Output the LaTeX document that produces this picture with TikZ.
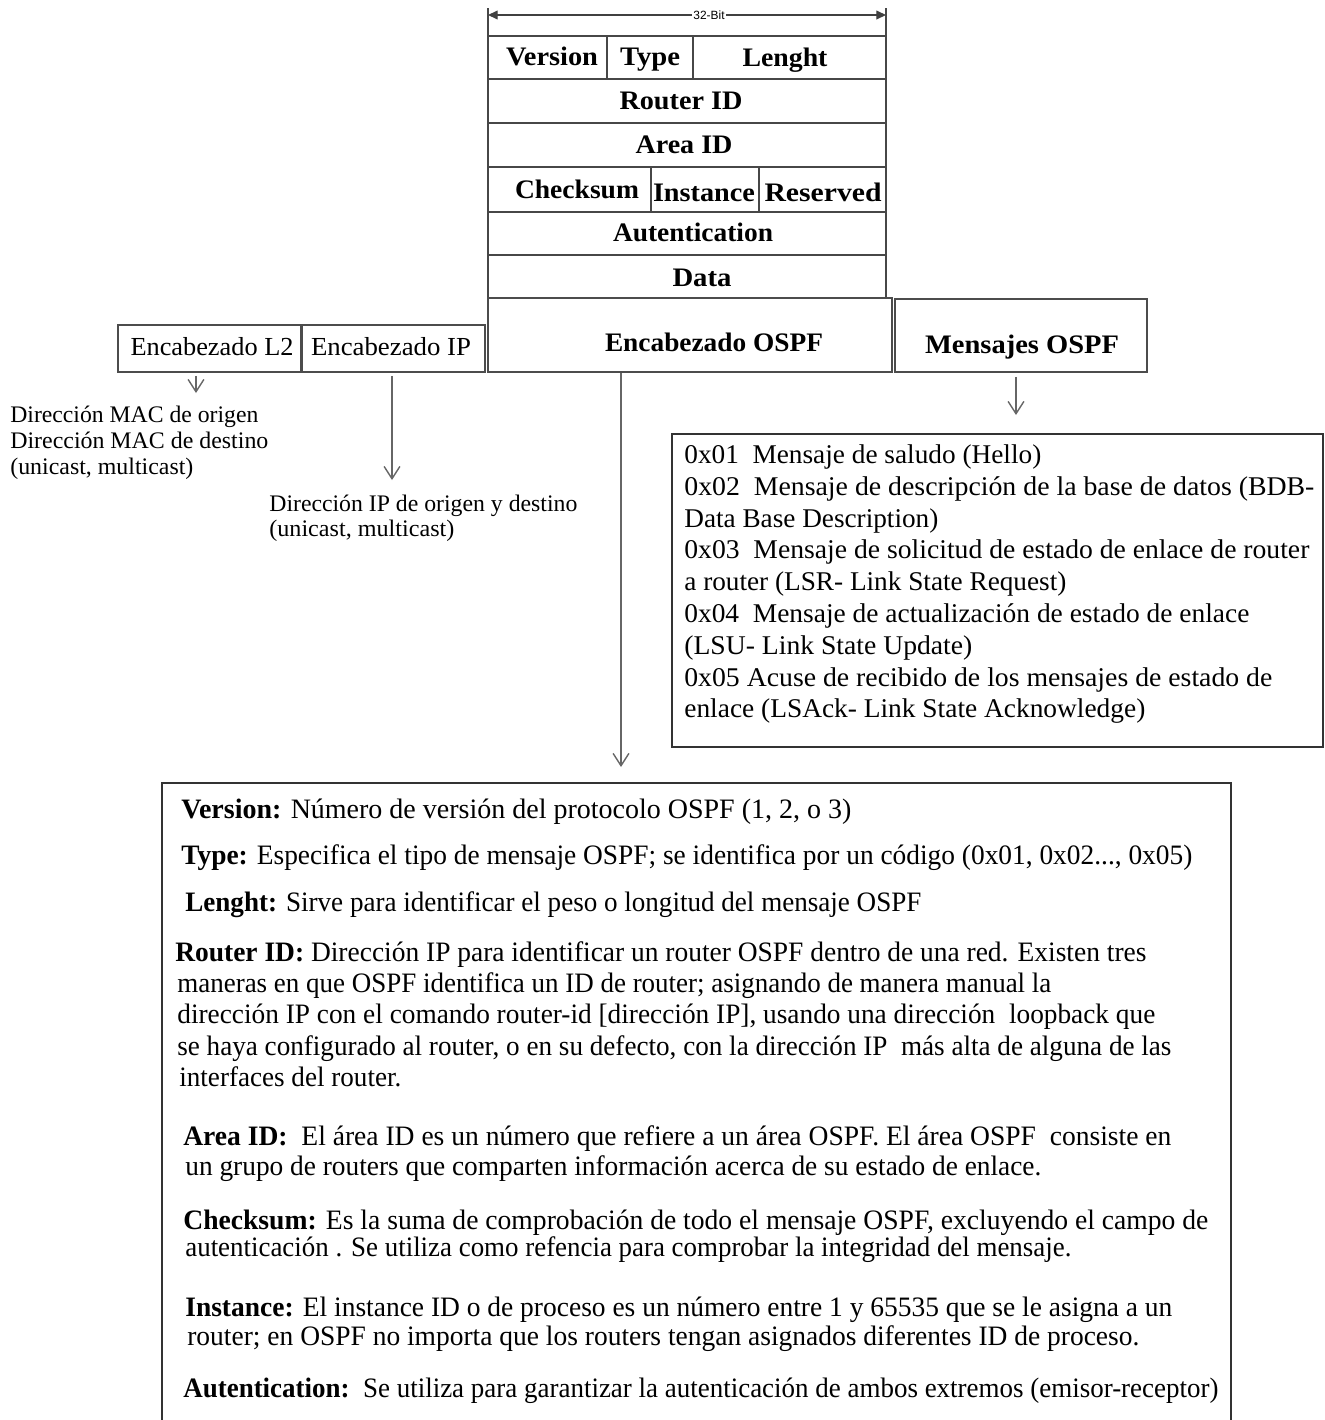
\documentclass[tikz,border=0pt]{standalone}
\usepackage{fontspec}
\setmainfont{Liberation Serif}
\newfontfamily\bitfont{Liberation Sans}
\usepackage{graphicx}
\usetikzlibrary{arrows.meta}

% one drawing unit = one pixel of a 1325 x 1420 sheet
\newdimen\px \px=0.02cm
% set a line of text to a given width (in px), keeping its height
\newcommand\fitw[2]{\resizebox{#1\px}{\height}{#2}}
\newcommand\bodyfont{\fontsize{16pt}{19pt}\selectfont}
\newcommand\msgfont{\fontsize{15.4pt}{18pt}\selectfont}
\newcommand\hdrfont{\fontsize{15.2pt}{17pt}\selectfont\bfseries}
\newcommand\notefont{\fontsize{13.5pt}{16pt}\selectfont}

\tikzset{
  grid/.style={draw=black!72, line width=1.7\px},
  box/.style={draw=black!70, line width=1.7\px, inner sep=0pt},
  arr/.style={draw=black!60, line width=1.4\px, -{Straight Barb[length=7pt,width=9pt]}},
  ln/.style={anchor=west, inner sep=0pt, text height=0.92em, text depth=0pt, font=\bodyfont},
  msg/.style={ln, font=\msgfont},
  note/.style={ln, font=\notefont},
  cell/.style={anchor=center, inner sep=0pt, text height=0.92em, text depth=0pt, font=\hdrfont},
  plain/.style={anchor=center, inner sep=0pt, text height=0.92em, text depth=0pt, font=\fontsize{14.8pt}{17pt}\selectfont},
}

\begin{document}
\begin{tikzpicture}[x=0.02cm, y=-0.02cm]
\fill[white] (0,0) rectangle (1325,1420);
\useasboundingbox (0,0) rectangle (1325,1420);

% ---- 32-bit width marker ----
\coordinate (bitL) at (488,15);
\coordinate (bitR) at (886,15);
\draw[black!75, line width=1.3\px, {Triangle[length=5.5pt,width=5pt]}-{Triangle[length=5.5pt,width=5pt]}] (bitL) -- (bitR);
\node[fill=white, inner sep=1pt, font=\bitfont\fontsize{6.8pt}{8pt}\selectfont] (bitlbl) at (709,15) {32-Bit};

% ---- OSPF header fields ----
\draw[grid] (488,8) -- (488,298);
\draw[grid] (886,8) -- (886,298);
\foreach \yy in {36,79,123,167,212,255} \draw[grid] (488,\yy) -- (886,\yy);
\draw[grid] (607,36) -- (607,79);
\draw[grid] (693,36) -- (693,79);
\draw[grid] (651,167) -- (651,212);
\draw[grid] (759,167) -- (759,212);

\node[cell] (fVer)  at (552,57)  {\fitw{92}{Version}};
\node[cell] (fType) at (650,57)  {\fitw{60}{Type}};
\node[cell] (fLen)  at (785,58)  {\fitw{85}{Lenght}};
\node[cell] (fRid)  at (681,101) {\fitw{123}{Router ID}};
\node[cell] (fAid)  at (684,145) {\fitw{97}{Area ID}};
\node[cell] (fChk)  at (577,190) {\fitw{124}{Checksum}};
\node[cell] (fIns)  at (704,193) {\fitw{102}{Instance}};
\node[cell] (fRes)  at (823,193) {\fitw{117}{Reserved}};
\node[cell] (fAut)  at (693,233) {\fitw{160}{Autentication}};
\node[cell] (fDat)  at (702,278) {\fitw{59}{Data}};

% ---- packet parts ----
\node[box, minimum width=183\px, minimum height=47\px] (l2) at (209.5,348.5) {};
\node[plain] (l2txt) at (212,347) {\fitw{163}{Encabezado L2}};
\node[box, minimum width=183\px, minimum height=47\px] (ip) at (393.5,348.5) {};
\node[plain] (iptxt) at (391,347) {\fitw{160}{Encabezado IP}};
\node[box, minimum width=404\px, minimum height=74\px] (ospfhdr) at (690,335) {};
\node[cell] (hdrtxt) at (714,343) {\fitw{218}{Encabezado OSPF}};
\node[box, minimum width=252\px, minimum height=73\px] (msgbox) at (1021,335.5) {};
\node[cell] (msgtxt) at (1022,345) {\fitw{194}{Mensajes OSPF}};

% ---- arrows ----
\coordinate (macend) at (196,393);
\coordinate (ipend) at (392,480);
\coordinate (hdrend) at (621,767);
\coordinate (msgend) at (1016,415);
\draw[arr, shorten <=3\px] (l2.south -| macend) -- (macend);
\draw[arr, shorten <=3\px] (ip.south -| ipend) -- (ipend);
\draw[arr] (ospfhdr.south -| hdrend) -- (hdrend);
\draw[arr, shorten <=4\px] (msgbox.south -| msgend) -- (msgend);

% ---- layer 2 / IP notes ----
\node[note] (mac1) at (10,414) {\fitw{248}{Dirección MAC de origen}};
\node[note] (mac2) at (10,440) {\fitw{258}{Dirección MAC de destino}};
\node[note] (mac3) at (10,466) {\fitw{183}{(unicast, multicast)}};
\node[note] (ip1) at (269,503) {\fitw{308}{Dirección IP de origen y destino}};
\node[note] (ip2) at (269,528) {\fitw{185}{(unicast, multicast)}};

% ---- message types ----
\node[box, draw=black!80, minimum width=651\px, minimum height=313\px] (msgs) at (997.5,590.5) {};
\node[msg] (m1) at (684,455) {\fitw{357}{0x01\ \ Mensaje de saludo (Hello)}};
\node[msg] (m2) at (684,487) {\fitw{630}{0x02\ \ Mensaje de descripción de la base de datos (BDB-}};
\node[msg] (m3) at (684,519) {\fitw{254}{Data Base Description)}};
\node[msg] (m4) at (684,550) {\fitw{625}{0x03\ \ Mensaje de solicitud de estado de enlace de router}};
\node[msg] (m5) at (684,582) {\fitw{382}{a router (LSR- Link State Request)}};
\node[msg] (m6) at (684,614) {\fitw{565}{0x04\ \ Mensaje de actualización de estado de enlace}};
\node[msg] (m7) at (684,646) {\fitw{288}{(LSU- Link State Update)}};
\node[msg] (m8) at (684,678) {\fitw{588}{0x05 Acuse de recibido de los mensajes de estado de}};
\node[msg] (m9) at (684,709) {\fitw{461}{enlace (LSAck- Link State Acknowledge)}};

% ---- field descriptions ----
\coordinate (dTL) at (162,783);
\coordinate (dTR) at (1231,783);
\draw[box, draw=black!80] (dTL |- 0,1421) -- (dTL) -- (dTR) -- (dTR |- 0,1421);

\node[ln] (dVer) at (181,810) {\fitw{670}{\textbf{Version:} Número de versión del protocolo OSPF (1, 2, o 3)}};
\node[ln] (dTyp) at (181,856) {\fitw{1011}{\textbf{Type:} Especifica el tipo de mensaje OSPF; se identifica por un código (0x01, 0x02..., 0x05)}};
\node[ln] (dLen) at (185,903) {\fitw{736}{\textbf{Lenght:} Sirve para identificar el peso o longitud del mensaje OSPF}};
\node[ln] (dR1) at (175,953) {\fitw{971}{\textbf{Router ID:} Dirección IP para identificar un router OSPF dentro de una red. Existen tres}};
\node[ln] (dR2) at (177,984) {\fitw{874}{maneras en que OSPF identifica un ID de router; asignando de manera manual la}};
\node[ln] (dR3) at (177,1015) {\fitw{978}{dirección IP con el comando router-id [dirección IP], usando una dirección\ \ loopback que}};
\node[ln] (dR4) at (177,1047) {\fitw{994}{se haya configurado al router, o en su defecto, con la dirección IP\ \ más alta de alguna de las}};
\node[ln] (dR5) at (179,1078) {\fitw{222}{interfaces del router.}};
\node[ln] (dA1) at (183,1137) {\fitw{988}{\textbf{Area ID:}\ \ El área ID es un número que refiere a un área OSPF. El área OSPF\ \ consiste en}};
\node[ln] (dA2) at (185,1167) {\fitw{856}{un grupo de routers que comparten información acerca de su estado de enlace.}};
\node[ln] (dC1) at (183,1221) {\fitw{1025}{\textbf{Checksum:} Es la suma de comprobación de todo el mensaje OSPF, excluyendo el campo de}};
\node[ln] (dC2) at (185,1248) {\fitw{886}{autenticación . Se utiliza como refencia para comprobar la integridad del mensaje.}};
\node[ln] (dI1) at (185,1308) {\fitw{987}{\textbf{Instance:} El instance ID o de proceso es un número entre 1 y 65535 que se le asigna a un}};
\node[ln] (dI2) at (187,1337) {\fitw{952}{router; en OSPF no importa que los routers tengan asignados diferentes ID de proceso.}};
\node[ln] (dAu) at (183,1389) {\fitw{1035}{\textbf{Autentication:}\ \ Se utiliza para garantizar la autenticación de ambos extremos (emisor-receptor)}};
\end{tikzpicture}
\end{document}
